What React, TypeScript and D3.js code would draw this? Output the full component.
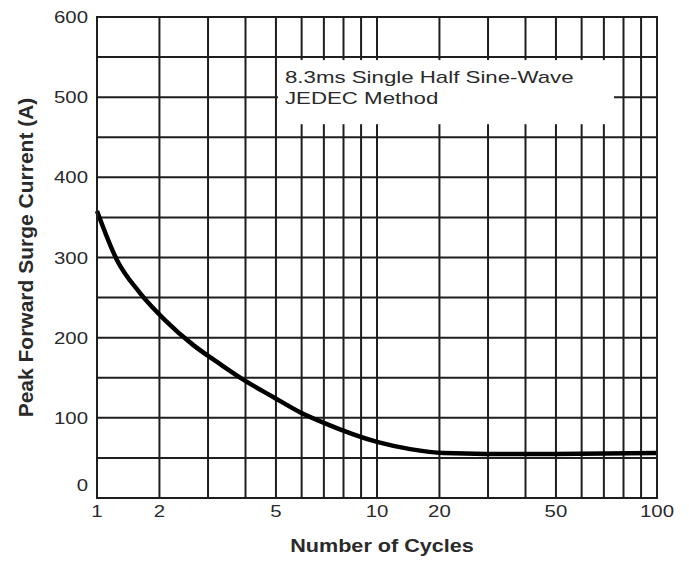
import React from "react";
import * as d3 from "d3";

// surge curve
const cycles = [1, 1.32, 1.67, 2.1, 2.66, 3.3, 3.96, 4.9, 5.93, 6.97, 10, 15.2, 20.8, 29.5, 49, 100];
const current = [358, 297, 256, 222, 191, 167, 147, 126, 107, 94, 70, 61, 56, 55, 55, 56];

const xGrid = [1, 2, 3, 4, 5, 6, 7, 8, 9, 10, 20, 30, 40, 50, 60, 70, 80, 90, 100];
const xTickLabels = [1, 2, 5, 10, 20, 50, 100];
const yGrid = [0, 50, 100, 150, 200, 250, 300, 350, 400, 450, 500, 550, 600];
const yTickLabels = [0, 100, 200, 300, 400, 500, 600];
const noteLines = ["8.3ms Single Half Sine-Wave", "JEDEC Method"];

const width = 689, height = 561;
const margin = { top: 17, right: 32, bottom: 63, left: 97 };
const font = "'Liberation Sans', Arial, sans-serif";

// the printed grid is a slightly squeezed log scale: warp each decade
const decade = d3.scaleLog().domain([1, 100]).range([0, 2]);
const warp = d3.scalePow().exponent(1.25).domain([0, 1]).range([0, 1]);
const xLin = d3.scaleLinear().domain([0, 2]).range([margin.left, width - margin.right]);
const x = (v: number) => {
  const l = decade(v);
  const whole = Math.min(Math.floor(l + 1e-9), 1);
  return xLin(whole + warp(l - whole));
};

const y = d3.scaleLinear().domain([0, 600]).range([height - margin.bottom, margin.top]);

const Stretch = ({ x, y, anchor = "start", size, weight = "normal", children, sx = 1.2 }: any) => (
  <text
    transform={`translate(${x},${y}) scale(${sx},1)`}
    textAnchor={anchor}
    fontFamily={font}
    fontSize={size}
    fontWeight={weight}
    fill="#2a2a2a"
  >
    {children}
  </text>
);

export default function App() {
  const pts = cycles.map((c, i) => [c, current[i]] as [number, number]);
  const line = d3.line<[number, number]>()
    .x((d) => x(d[0]))
    .y((d) => y(d[1]))
    .curve(d3.curveMonotoneX);

  const x0 = x(1), x1 = x(100), yTop = y(600), yBot = y(0);

  return (
    <svg width={width} height={height} style={{ position: "absolute", left: 0, top: 0, background: "#fff" }}>
      {/* grid */}
      <g stroke="#1e1e1e" strokeWidth={2}>
        {yGrid.map((v) => (
          <line key={"h" + v} x1={x0} x2={x1} y1={y(v)} y2={y(v)} />
        ))}
        {xGrid.map((v) => (
          <line key={"v" + v} x1={x(v)} x2={x(v)} y1={yTop} y2={yBot} />
        ))}
      </g>

      {/* note box */}
      <rect x={x(5) + 2} y={y(550) + 3} width={x(75) - x(5) - 2} height={y(470) - y(550)} fill="#fff" />
      {noteLines.map((t, i) => (
        <Stretch key={t} x={x(5) + 9} y={y(550) + 26 + i * 21} size={17} sx={1.31}>
          {t}
        </Stretch>
      ))}

      {/* curve */}
      <path d={line(pts) || ""} fill="none" stroke="#000" strokeWidth={4.5} strokeLinejoin="round" />

      {/* frame */}
      <rect x={x0} y={yTop} width={x1 - x0} height={yBot - yTop} fill="none" stroke="#1e1e1e" strokeWidth={2} />

      {/* y tick labels */}
      {yTickLabels.map((v) => (
        <Stretch key={"yl" + v} x={x0 - 9} y={Math.min(y(v), yBot - 13) + 6} anchor="end" size={17}>
          {v}
        </Stretch>
      ))}

      {/* x tick labels */}
      {xTickLabels.map((v) => (
        <Stretch key={"xl" + v} x={x(v)} y={yBot + 19} anchor="middle" size={17}>
          {v}
        </Stretch>
      ))}

      <Stretch x={(x0 + x1) / 2 + 5} y={552} anchor="middle" size={18} weight="bold">
        Number of Cycles
      </Stretch>

      <text
        transform={`translate(33,${(yTop + yBot) / 2}) rotate(-90)`}
        textAnchor="middle"
        fontFamily={font}
        fontSize={21}
        fontWeight="bold"
        fill="#2a2a2a"
      >
        Peak Forward Surge Current (A)
      </text>
    </svg>
  );
}
